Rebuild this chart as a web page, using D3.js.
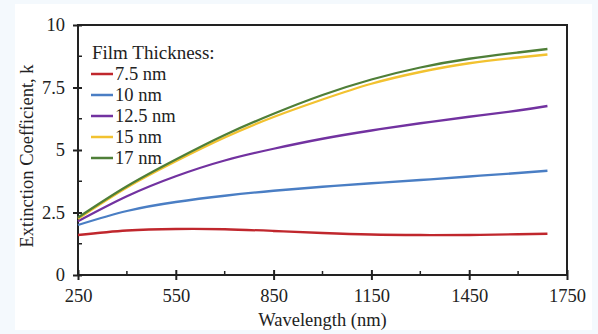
<!DOCTYPE html>
<html>
<head>
<meta charset="utf-8">
<script src="https://cdn.jsdelivr.net/npm/d3@7"></script>
<style>
  body { margin: 0; background: #f4f9fd; }
  svg { display: block; }
  text { font-family: "Liberation Serif", "Times New Roman", serif; fill: #222; }
</style>
</head>
<body>
<svg id="chart" width="598" height="334"></svg>
<script>
// wavelength samples (nm)
const wavelengths = [250, 400, 550, 700, 850, 1000, 1150, 1300, 1450, 1600, 1690];

// extinction coefficient k for each film thickness
const k75  = [1.60, 1.78, 1.84, 1.83, 1.76, 1.68, 1.62, 1.60, 1.60, 1.63, 1.65];
const k10  = [2.00, 2.56, 2.92, 3.17, 3.37, 3.53, 3.67, 3.80, 3.94, 4.08, 4.17];
const k125 = [2.15, 3.15, 3.95, 4.58, 5.05, 5.45, 5.78, 6.07, 6.33, 6.58, 6.76];
const k15  = [2.25, 3.50, 4.55, 5.50, 6.32, 7.02, 7.65, 8.12, 8.47, 8.70, 8.82];
const k17  = [2.30, 3.55, 4.62, 5.60, 6.45, 7.20, 7.82, 8.30, 8.65, 8.90, 9.04];

const seriesNames = ['7.5 nm', '10 nm', '12.5 nm', '15 nm', '17 nm'];
const seriesColors = ['#c0272d', '#4a7ec4', '#7232a0', '#f2c230', '#4f7f38'];
const seriesValues = [k75, k10, k125, k15, k17];

const xTicks = [250, 550, 850, 1150, 1450, 1750];
const yTicks = [0, 2.5, 5, 7.5, 10];

const margin = {top: 25, right: 31, bottom: 59, left: 78},
  width = 598 - margin.left - margin.right,
  height = 334 - margin.top - margin.bottom;

const svg = d3.select('#chart');

// white panel
svg.append('rect')
  .attr('x', 15).attr('y', 4)
  .attr('width', 577).attr('height', 326)
  .attr('fill', '#fff');

const g = svg.append('g')
  .attr('transform', 'translate(' + margin.left + ',' + margin.top + ')');

const x = d3.scaleLinear().domain([250, 1750]).range([0, width]);
const y = d3.scaleLinear().domain([0, 10]).range([height, 0]);

// frame
g.append('rect')
  .attr('width', width).attr('height', height)
  .attr('fill', 'none')
  .attr('stroke', '#222')
  .attr('stroke-width', 2);

// minor ticks (inside)
const xMinor = d3.range(400, 1750, 300);
g.selectAll('.xminor').data(xMinor).enter().append('line')
  .attr('x1', d => x(d)).attr('x2', d => x(d))
  .attr('y1', height).attr('y2', height - 4)
  .attr('stroke', '#222').attr('stroke-width', 1.5);
const yMinor = d3.range(1.25, 10, 2.5);
g.selectAll('.yminor').data(yMinor).enter().append('line')
  .attr('x1', 0).attr('x2', 4)
  .attr('y1', d => y(d)).attr('y2', d => y(d))
  .attr('stroke', '#222').attr('stroke-width', 1.5);

// axes with crossing major ticks
const xAxis = d3.axisBottom(x).tickValues(xTicks).tickSizeInner(5).tickSizeOuter(0).tickPadding(9)
  .tickFormat(d3.format('d'));
const yAxis = d3.axisLeft(y).tickValues(yTicks).tickSizeInner(5).tickSizeOuter(0).tickPadding(8)
  .tickFormat(d3.format('~g'));

const gx = g.append('g')
  .attr('transform', 'translate(0,' + height + ')')
  .call(xAxis);
const gy = g.append('g').call(yAxis);

[gx, gy].forEach(a => {
  a.select('.domain').remove();
  a.selectAll('line').attr('stroke', '#222').attr('stroke-width', 2);
  a.selectAll('text').style('font-size', '18.5px').attr('fill', '#222');
});
gx.selectAll('line').attr('y1', -5);
gy.selectAll('line').attr('x1', 4);

// curves
const line = d3.line()
  .x((d, i) => x(wavelengths[i]))
  .y(d => y(d))
  .curve(d3.curveNatural);

seriesValues.forEach((vals, i) => {
  g.append('path')
    .datum(vals)
    .attr('d', line)
    .attr('fill', 'none')
    .attr('stroke', seriesColors[i])
    .attr('stroke-width', 2.3);
});

// legend
const legend = g.append('g').attr('transform', 'translate(13,0)');
legend.append('text')
  .attr('x', 1).attr('y', 27)
  .attr('dy', '0.35em')
  .style('font-size', '19px')
  .text('Film Thickness:');

seriesNames.forEach((name, i) => {
  const ly = 49 + i * 21;
  legend.append('line')
    .attr('x1', 0).attr('x2', 22)
    .attr('y1', ly).attr('y2', ly)
    .attr('stroke', seriesColors[i])
    .attr('stroke-width', 2.5);
  legend.append('text')
    .attr('x', 24).attr('y', ly)
    .attr('dy', '0.35em')
    .style('font-size', '18.5px')
    .text(name);
});

// axis titles
svg.append('text')
  .attr('x', margin.left + width / 2).attr('y', 320)
  .attr('dy', '0.35em')
  .attr('text-anchor', 'middle')
  .style('font-size', '18.5px')
  .text('Wavelength (nm)');

svg.append('text')
  .attr('transform', 'translate(27,' + (margin.top + height / 2 + 6) + ')rotate(-90)')
  .attr('dy', '0.35em')
  .attr('text-anchor', 'middle')
  .style('font-size', '18.5px')
  .text('Extinction Coefficient, k');
</script>
</body>
</html>
